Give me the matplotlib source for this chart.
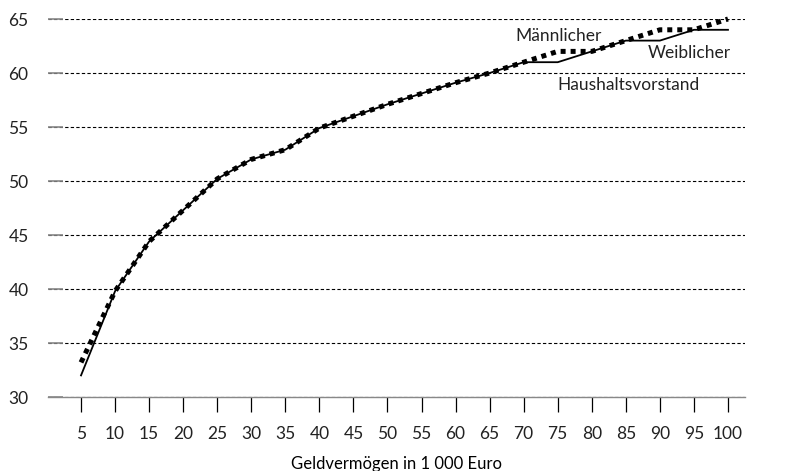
import matplotlib
matplotlib.use("Agg")
from matplotlib import pyplot as plt

plt.rcParams.update({"font.family": "Lato",
                     "font.size": 12.5,
                     "text.color": "#222222",
                     "xtick.color": "#222222",
                     "ytick.color": "#222222"})

# Geldvermögen in 1 000 Euro
vermoegen = [5, 10, 15, 20, 25, 30, 35, 40, 45, 50,
             55, 60, 65, 70, 75, 80, 85, 90, 95, 100]
weiblich = [32, 39.8, 44.4, 47.3, 50.2, 52, 52.9, 54.9, 56, 57.1,
            58.1, 59.1, 60, 61, 61, 62, 63, 63, 64, 64]
maennlich = [33.2, 39.8, 44.4, 47.3, 50.2, 52, 52.9, 54.9, 56, 57.1,
             58.1, 59.1, 60, 61, 62, 62, 63, 64, 64, 65]
y_ticks = [30, 35, 40, 45, 50, 55, 60, 65]

fig = plt.figure(figsize=(7.95, 4.71), dpi=100)
ax = fig.add_axes([48/795, 1-397/471, (745-48)/795, (397-19)/471])

ax.set_xlim(0.15, 102.5)
ax.set_ylim(30, 65)

for y in y_ticks:
    ax.axhline(y, color="black", lw=0.8, ls=(0, (3, 2)), zorder=1)

ax.plot(vermoegen, weiblich, color="black", lw=1.3, zorder=3, clip_on=False)
ax.plot(vermoegen, maennlich, color="black", lw=3.6, ls=(0, (1, 1)),
        dash_capstyle="butt", zorder=4, clip_on=False)

ax.text(602/795, 1-36/471, "Männlicher", transform=fig.transFigure,
        ha="right", va="center")
ax.text(731/795, 1-53/471, "Weiblicher", transform=fig.transFigure,
        ha="right", va="center")
ax.text(557/795, 1-85/471, "Haushaltsvorstand", transform=fig.transFigure,
        ha="left", va="center")

for s in ["top", "right", "left"]:
    ax.spines[s].set_visible(False)
ax.spines["bottom"].set_color("#888888")
ax.spines["bottom"].set_linewidth(1.0)

ax.set_xticks(vermoegen)
ax.set_yticks(y_ticks)
ax.tick_params(axis="x", direction="out", length=11, width=0.9, color="black", pad=10)
ax.tick_params(axis="y", direction="in", length=11, width=1.2, color="#888888", pad=14)
ax.set_xlabel("Geldvermögen in 1 000 Euro", labelpad=10, fontsize=12)

fig.savefig("out.png", dpi=100)
